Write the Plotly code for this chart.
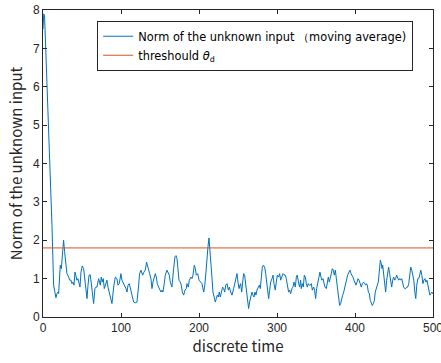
import plotly.graph_objects as go

# time instants and moving-average norm values
time = [0, 1, 2, 10, 11.5, 13.6, 16.6, 17.9, 19.2, 20.0, 22.2, 23.5, 25.2, 26.4, 27.7, 29.4, 30.7,
        32.9, 34.1, 35.9, 37.1, 38.4, 39.7, 41.0, 42.3, 43.5, 44.8, 46.1, 47.4, 48.7, 50.4, 52.1,
        53.4, 54.7, 56.4, 57.7, 59.0, 60.6, 61.9, 63.2, 64.9, 66.6, 67.9, 69.2, 71.3, 73.5, 74.7,
        76.0, 77.3, 78.6, 80.0, 82.0, 83.3, 85.0, 87.1, 88.4, 90.6, 92.7, 94.8, 96.1, 97.8, 99.9,
        101.2, 102.5, 104.3, 106.4, 107.7, 109.0, 110.6, 111.9, 114.1, 116.2, 118.3, 120.5, 122.6,
        123.9, 125.6, 127.7, 129.4, 131.1, 132.8, 134.1, 135.4, 136.7, 138.4, 139.7, 141.0, 142.3,
        144.0, 145.3, 146.5, 148.2, 149.5, 151.2, 152.5, 153.8, 155.5, 156.8, 158.9, 160.2, 161.9,
        163.2, 164.5, 165.3, 167.5, 169.2, 170.5, 171.8, 173.0, 174.3, 176.0, 177.3, 178.6, 180.3,
        182.0, 183.7, 184.6, 186.3, 187.6, 189.7, 191.0, 192.3, 194.0, 195.3, 196.5, 198.3, 200.0,
        201.7, 203.8, 206.0, 207.2, 208.9, 210.2, 211.5, 212.8, 214.1, 215.4, 216.6, 217.9, 219.6,
        220.9, 222.2, 223.5, 224.8, 226.0, 227.3, 228.6, 230.3, 231.6, 232.9, 234.2, 235.9, 237.6,
        238.9, 240.6, 242.3, 244.4, 246.1, 247.4, 248.7, 250.0, 251.3, 252.5, 253.4, 254.7, 256.0,
        257.2, 258.5, 259.8, 261.1, 262.4, 263.6, 264.9, 266.2, 267.9, 269.2, 270.5, 271.8, 273.0,
        274.3, 275.6, 277.3, 278.6, 279.9, 281.2, 282.5, 284.2, 285.5, 286.7, 288.0, 289.3, 290.6,
        291.9, 293.6, 294.9, 296.1, 297.8, 299.1, 300.4, 302.1, 303.4, 304.7, 306.4, 307.7, 309.0,
        310.6, 311.9, 313.2, 314.9, 316.2, 317.5, 319.2, 320.5, 321.8, 323.5, 324.8, 326.0, 327.8,
        329.0, 330.3, 331.1, 332.4, 333.7, 335.0, 336.3, 337.6, 338.8, 340.1, 341.4, 342.7, 344.0,
        345.3, 347.0, 348.2, 349.5, 350.8, 352.1, 353.8, 355.1, 356.4, 357.7, 359.0, 360.2, 361.5,
        363.2, 364.5, 365.8, 367.1, 368.4, 369.6, 370.9, 372.2, 373.5, 374.8, 376.1, 377.4, 378.6,
        380.3, 381.6, 382.9, 384.2, 385.5, 386.8, 388.0, 389.3, 390.6, 392.3, 393.6, 394.9, 396.2,
        397.4, 398.7, 400.0, 401.3, 402.6, 403.9, 405.2, 406.9, 408.1, 409.4, 411.1, 412.4, 413.7,
        414.5, 415.8, 417.1, 418.4, 419.6, 420.9, 422.2, 423.5, 424.8, 426.0, 427.3, 428.6, 429.9,
        431.2, 432.5, 433.8, 434.6, 435.5, 436.7, 438.0, 439.3, 440.6, 441.9, 443.1, 444.4, 445.7,
        447.0, 448.3, 449.6, 450.9, 452.1, 453.4, 454.7, 456.0, 457.3, 458.6, 459.9, 461.2, 462.4,
        463.7, 465.0, 466.3, 467.6, 468.9, 470.2, 471.5, 472.8, 474.1, 475.4, 476.7, 477.9, 479.2,
        480.5, 481.8, 483.1, 484.4, 485.7, 487.0, 488.3, 489.6, 490.9, 492.2, 493.5, 494.8, 496.0,
        497.3, 498.6, 500.0]

norm_ma = [7.5, 7.9, 7.85, 3.57, 2.39, 0.83, 0.5, 0.61, 0.65, 0.61, 1.35, 1.26, 1.87, 2.0, 1.70, 1.43, 1.13,
           1.04, 0.96, 0.96, 0.87, 0.91, 0.83, 1.17, 1.04, 0.96, 1.0, 0.87, 0.78, 1.17, 1.33, 1.26,
           1.0, 0.65, 0.48, 0.83, 1.09, 1.1, 0.91, 0.65, 0.35, 0.74, 0.78, 0.78, 1.0, 0.83, 1.04,
           0.91, 1.0, 0.74, 0.83, 0.96, 0.78, 0.65, 0.48, 0.35, 0.78, 1.04, 1.0, 0.83, 0.87, 1.13,
           0.96, 0.91, 0.83, 0.74, 0.65, 0.83, 0.87, 0.74, 0.57, 0.39, 0.37, 0.39, 0.83,
           1.13, 1.22, 1.09, 1.17, 1.22, 1.43, 1.30, 1.26, 1.13, 1.0, 0.74, 0.91, 1.0,
           1.13, 1.04, 0.87, 0.78, 0.70, 0.65, 0.70, 0.65, 0.87, 1.09, 1.22, 1.17, 1.09,
           0.91, 0.78, 0.78, 1.26, 1.57, 1.60, 1.52, 1.26, 0.96, 0.91, 0.83, 0.65, 0.57,
           0.70, 0.74, 0.87, 0.78, 0.96, 1.04, 1.0, 1.09, 1.35, 1.26, 1.09, 1.13, 0.96,
           0.91, 0.87, 0.65, 0.78, 1.17, 1.65, 1.83, 2.06, 1.78, 1.43, 1.04, 0.65, 0.52,
           0.39, 0.48, 0.57, 0.52, 0.65, 0.52, 0.65, 0.78, 0.74, 0.65, 0.83, 0.87, 0.70,
           0.78, 0.65, 0.57, 0.74, 0.91, 1.0, 1.13, 0.91, 0.74, 0.83, 0.87, 0.65, 1.0,
           1.13, 1.09, 0.83, 0.61, 0.39, 0.22, 0.39, 0.52, 0.65, 0.57, 0.52, 0.65, 0.57,
           0.70, 0.78, 0.83, 0.74, 0.96, 1.30, 1.35, 1.30, 1.13, 0.87, 0.61, 0.48, 0.70,
           0.91, 1.0, 1.09, 0.87, 0.70, 0.91, 1.09, 1.04, 1.13, 0.96, 1.09, 1.13, 1.10,
           1.09, 1.0, 0.83, 0.65, 0.70, 0.61, 0.74, 0.78, 0.91, 0.78, 1.04, 1.09, 0.87,
           0.78, 0.96, 0.74, 0.87, 0.78, 1.09, 1.04, 0.87, 0.78, 0.87, 0.83, 0.83, 0.87,
           0.70, 0.78, 0.70, 0.48, 0.74, 0.87, 0.96, 1.17, 1.04, 0.96, 1.0, 0.91, 0.78,
           0.74, 0.96, 1.04, 0.91, 1.0, 1.13, 1.26, 1.22, 1.09, 1.22, 1.0, 0.74, 0.48,
           0.30, 0.35, 0.52, 0.57, 0.65, 0.78, 0.87, 1.0, 1.09, 1.17, 1.22, 1.13, 1.09,
           1.04, 0.96, 0.87, 0.83, 0.91, 1.0, 0.96, 0.87, 0.78, 0.87, 0.91, 0.87, 0.83,
           0.87, 0.83, 0.65, 0.61, 0.43, 0.35, 0.30, 0.35, 0.43, 0.65, 0.78, 0.83, 0.91,
           1.13, 1.48, 1.39, 1.26, 1.35, 1.09, 0.91, 0.65, 0.96, 1.17, 1.30, 1.13, 0.96,
           0.78, 0.96, 1.04, 0.96, 1.0, 1.09, 1.0, 0.96, 1.0, 0.96, 1.0, 0.87, 0.78,
           0.74, 0.74, 0.78, 0.78, 0.87, 1.09, 1.30, 1.22, 1.09, 0.96, 0.65, 0.48, 0.83,
           1.0, 1.0, 1.09, 1.22, 1.09, 0.87, 0.96, 1.0, 0.91, 0.96, 0.83, 0.65, 0.57,
           0.61, 0.65, 0.60]

threshold = 1.8
threshold_span = [0, 500]

x_ticks = [0, 100, 200, 300, 400, 500]
y_ticks = [0, 1, 2, 3, 4, 5, 6, 7, 8]

axis_color = "#262626"
tick_font = dict(family="Liberation Sans, Arial, sans-serif", size=12, color=axis_color)
title_font = dict(family="Noto Sans CJK JP, sans-serif", size=15, color=axis_color)

fig = go.Figure()
fig.add_trace(go.Scatter(x=time, y=norm_ma, mode="lines",
                         name="Norm of the unknown input （moving average)",
                         line=dict(color="#0072BD", width=1)))
fig.add_trace(go.Scatter(x=threshold_span, y=[threshold, threshold], mode="lines",
                         name="threshould <i>θ</i><sub>d</sub>",
                         line=dict(color="#D95319", width=1)))

fig.update_layout(
    width=441, height=363,
    margin=dict(l=43, r=8, t=10, b=46, autoexpand=False),
    paper_bgcolor="white", plot_bgcolor="white",
    showlegend=True,
    legend=dict(x=0.139, y=0.965, xanchor="left", yanchor="top",
                bgcolor="white", bordercolor=axis_color, borderwidth=1,
                font=dict(family="DejaVu Sans, sans-serif", size=11.4, color="black"),
                tracegroupgap=0, itemwidth=30),
    xaxis=dict(range=[0, 500], tickvals=x_ticks, ticks="inside", ticklen=4,
               tickcolor=axis_color, showline=True, linecolor=axis_color, linewidth=1,
               mirror="allticks", showgrid=False, zeroline=False, tickfont=tick_font,
               ticklabeloverflow="allow", automargin=False,
               title=dict(text="discrete time", font=title_font, standoff=4)),
    yaxis=dict(range=[0, 8], tickvals=y_ticks, ticks="inside", ticklen=4,
               tickcolor=axis_color, showline=True, linecolor=axis_color, linewidth=1,
               mirror="allticks", showgrid=False, zeroline=False, tickfont=tick_font,
               ticklabeloverflow="allow", automargin=False,
               title=dict(text="Norm of the unknown input", font=title_font, standoff=6)),
)

fig.write_html("out.html")
